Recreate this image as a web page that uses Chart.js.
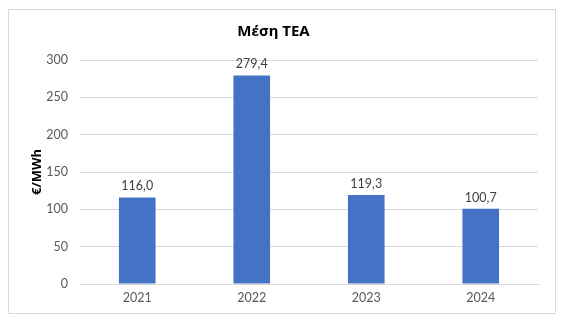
<!DOCTYPE html>
<html>
<head>
<meta charset="utf-8">
<script src="https://cdn.jsdelivr.net/npm/chart.js@4/dist/chart.umd.min.js"></script>
<style>
  html, body { margin: 0; padding: 0; background: #fff; }
  #box {
    position: absolute; left: 8px; top: 9px;
    width: 546px; height: 303px;
    border: 1px solid #d9d9d9;
  }
</style>
</head>
<body>
<div id="box"><canvas id="chart" width="546" height="303"></canvas></div>
<script>
const years = ['2021', '2022', '2023', '2024'];
const teaValues = [116.0, 279.4, 119.3, 100.7];
const yTicks = [0, 50, 100, 150, 200, 250, 300];

// etiquetas de valor acima das barras (formato com vírgula)
const valueLabels = {
    id: 'valueLabels',
    afterDatasetsDraw(chart) {
        const ctx = chart.ctx;
        const meta = chart.getDatasetMeta(0);
        ctx.save();
        ctx.font = '12.5px Lato, "Noto Sans", sans-serif';
        ctx.fillStyle = '#404040';
        ctx.textAlign = 'center';
        ctx.textBaseline = 'bottom';
        meta.data.forEach((bar, i) => {
            const txt = teaValues[i].toFixed(1).replace('.', ',');
            ctx.fillText(txt, bar.x, bar.y - 5);
        });
        ctx.restore();
    }
};

new Chart(document.getElementById('chart'), {
    type: 'bar',
    data: {
        labels: years,
        datasets: [{
            data: teaValues,
            backgroundColor: '#4472C4',
            borderWidth: 0,
            categoryPercentage: 1,
            barPercentage: 0.32
        }]
    },
    options: {
        responsive: false,
        animation: false,
        layout: { padding: { left: 0, right: 17, top: 0, bottom: 1 } },
        plugins: {
            legend: { display: false },
            tooltip: { enabled: false },
            title: {
                display: true,
                text: 'Μέση ΤΕΑ',
                color: '#000',
                font: { family: '"Noto Sans", sans-serif', size: 15, weight: 'bold' },
                padding: { top: 13, bottom: 19 }
            }
        },
        scales: {
            x: {
                grid: { display: false, drawTicks: false },
                border: { display: true, color: '#d9d9d9' },
                ticks: {
                    color: '#595959',
                    padding: 6.5,
                    font: { family: 'Lato, "Noto Sans", sans-serif', size: 12.5 }
                }
            },
            y: {
                min: 0,
                max: 300,
                afterBuildTicks: (scale) => { scale.ticks = yTicks.map(v => ({ value: v })); },
                afterFit: (scale) => { scale.width = 71; },
                grid: { color: '#d9d9d9', drawTicks: false },
                border: { display: false },
                ticks: {
                    color: '#595959',
                    padding: 12,
                    font: { family: 'Lato, "Noto Sans", sans-serif', size: 12.5 }
                },
                title: {
                    display: true,
                    text: '€/MWh',
                    color: '#000',
                    font: { family: '"Noto Sans", sans-serif', size: 13, weight: 'bold' },
                    padding: { top: 20, bottom: 0 }
                }
            }
        }
    },
    plugins: [valueLabels]
});
</script>
</body>
</html>
